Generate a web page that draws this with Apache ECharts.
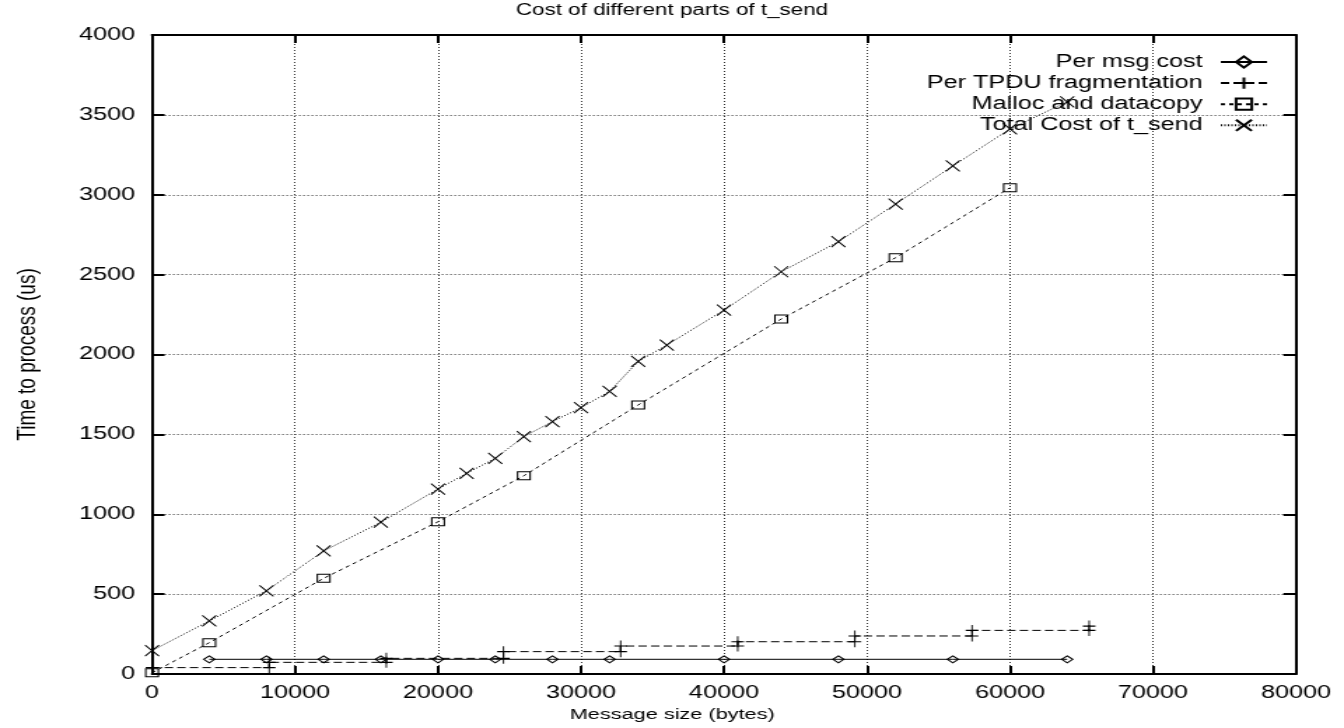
<!DOCTYPE html>
<html>
<head>
<meta charset="utf-8">
<title>Cost of different parts of t_send</title>
<script src="https://cdn.jsdelivr.net/npm/echarts@6/dist/echarts.min.js"></script>
<style>
  html, body { margin: 0; padding: 0; background: #fff; overflow: hidden; }
  /* plot is laid out on a narrower canvas and widened to the page */
  #chart { width: 960px; height: 728px; transform: scaleX(1.4); transform-origin: 0 0; }
</style>
</head>
<body>
<div id="chart"></div>
<script>
// Message sizes (bytes) and processing times (us)
const perMsgSizes = [4000, 8000, 12000, 16000, 20000, 24000, 28000, 32000, 40000, 48000, 56000, 64000];
const perMsgCost  = [92, 92, 92, 92, 92, 92, 92, 92, 92, 92, 92, 92];

const tpduSizes = [0, 8192, 8192, 16384, 16384, 24576, 24576, 32768, 32768, 40960, 40960, 49152, 49152, 57344, 57344, 65536, 65536];
const tpduCost  = [40, 40, 73, 73, 98, 98, 140, 140, 175, 175, 202, 202, 238, 238, 273, 273, 300];

const mallocSizes = [0, 4000, 12000, 20000, 26000, 34000, 44000, 52000, 60000];
const mallocCost  = [8, 196, 599, 953, 1241, 1684, 2222, 2606, 3044];

const totalSizes = [0, 4000, 8000, 12000, 16000, 20000, 22000, 24000, 26000, 28000, 30000, 32000, 34000, 36000, 40000, 44000, 48000, 52000, 56000, 60000, 64000];
const totalCost  = [146, 332, 521, 770, 950, 1158, 1256, 1350, 1486, 1580, 1667, 1769, 1957, 2059, 2278, 2518, 2706, 2942, 3180, 3412, 3582];

const seriesNames = ['Per msg cost', 'Per TPDU fragmentation', 'Malloc and datacopy', 'Total Cost of t_send'];

const FONT = '"Liberation Sans", Arial, Helvetica, sans-serif';
const PLUS = 'path://M0,5L10,5M5,0L5,10';
const CROSS = 'path://M0,0L10,10M10,0L0,10';

function pairs(xs, ys) { return xs.map((x, i) => [x, ys[i]]); }
function plain(v) { return String(v); }

function lineSeries(name, xs, ys, symbol, size, dash) {
  return {
    name: name,
    type: 'line',
    data: pairs(xs, ys),
    symbol: symbol,
    symbolSize: size,
    showAllSymbol: true,
    clip: false,
    lineStyle: { color: '#000', width: 1, type: dash },
    itemStyle: { color: 'transparent', borderColor: '#000', borderWidth: 1 },
    emphasis: { disabled: true },
    z: 3
  };
}

const chart = echarts.init(document.getElementById('chart'), null, { renderer: 'canvas' });

const axisLine = { show: true, onZero: false, lineStyle: { color: '#000', width: 2 } };

chart.setOption({
  animation: false,
  backgroundColor: '#fff',
  textStyle: { fontFamily: FONT, color: '#000' },
  title: {
    text: 'Cost of different parts of t_send',
    left: 'center',
    top: 3,
    padding: 0,
    textStyle: { fontFamily: FONT, fontSize: 16, fontWeight: 'normal', color: '#000' }
  },
  legend: {
    data: seriesNames,
    orient: 'vertical',
    align: 'right',
    right: 54,
    top: 53,
    padding: 0,
    itemWidth: 33,
    itemHeight: 14,
    itemGap: 3.1,
    selectedMode: false,
    textStyle: { fontFamily: FONT, fontSize: 18, lineHeight: 14, color: '#000', padding: [0, 8, 0, 0] }
  },
  grid: { left: 108.6, right: 34.3, top: 35, bottom: 54, containLabel: false },
  xAxis: [{
    type: 'value',
    min: 0, max: 80000, interval: 10000,
    name: 'Message size (bytes)',
    nameLocation: 'middle',
    nameGap: 33,
    nameTextStyle: { fontFamily: FONT, fontSize: 15.5, color: '#000', padding: [0, 74, 0, 0] },
    axisLine: axisLine,
    axisTick: { show: true, inside: true, length: 8, lineStyle: { color: '#000', width: 2 } },
    axisLabel: { fontFamily: FONT, fontSize: 18, color: '#000', margin: 10, formatter: plain },
    splitLine: { show: true, lineStyle: { color: '#333', width: 1, type: [1, 2] } }
  }, {
    type: 'value', position: 'top',
    min: 0, max: 80000, interval: 10000,
    axisLine: axisLine,
    axisTick: { show: true, inside: true, length: 8, lineStyle: { color: '#000', width: 2 } },
    axisLabel: { show: false },
    splitLine: { show: false }
  }],
  yAxis: [{
    type: 'value',
    min: 0, max: 4000, interval: 500,
    name: 'Time to process (us)',
    nameLocation: 'middle',
    nameGap: 79,
    nameRotate: 90,
    nameTextStyle: { fontFamily: FONT, fontSize: 19, color: '#000' },
    axisLine: axisLine,
    axisTick: { show: true, inside: true, length: 9, lineStyle: { color: '#000', width: 2 } },
    axisLabel: { fontFamily: FONT, fontSize: 18, color: '#000', margin: 12, formatter: plain },
    splitLine: { show: true, lineStyle: { color: '#333', width: 1, type: [1, 2] } }
  }, {
    type: 'value', position: 'right',
    min: 0, max: 4000, interval: 500,
    axisLine: axisLine,
    axisTick: { show: true, inside: true, length: 9, lineStyle: { color: '#000', width: 2 } },
    axisLabel: { show: false },
    splitLine: { show: false }
  }],
  series: [
    lineSeries(seriesNames[0], perMsgSizes, perMsgCost, 'diamond', [8, 7], 'solid'),
    lineSeries(seriesNames[1], tpduSizes, tpduCost, PLUS, [9, 11], [6, 3]),
    lineSeries(seriesNames[2], mallocSizes, mallocCost, 'rect', [9, 8], [3, 3]),
    lineSeries(seriesNames[3], totalSizes, totalCost, CROSS, [10, 11], [1, 1.5])
  ]
});
</script>
</body>
</html>
